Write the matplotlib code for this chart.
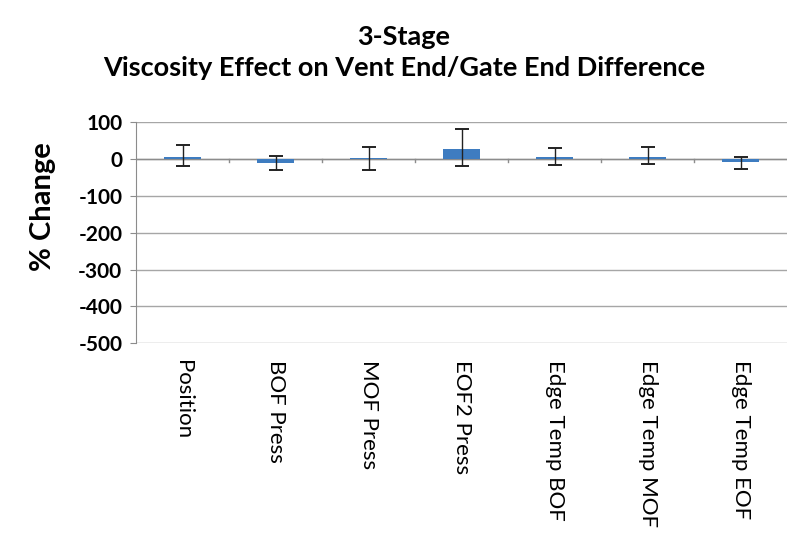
import numpy as np
import matplotlib.pyplot as plt

plt.rcParams['font.family'] = ['Lato', 'DejaVu Sans']

categories = ['Position', 'BOF Press', 'MOF Press', 'EOF2 Press',
              'Edge Temp BOF', 'Edge Temp MOF', 'Edge Temp EOF']
values = [5, -10, 2, 28, 5, 5, -8]
err_high = [37, 8, 33, 81, 29, 33, 6]
err_low = [-18, -31, -29, -20, -15, -13, -28]
yticks = [100, 0, -100, -200, -300, -400, -500]

x = np.arange(len(categories))
vals = np.array(values)
yerr = [vals - np.array(err_low), np.array(err_high) - vals]

fig = plt.figure(figsize=(7.92, 5.58), dpi=100)
ax = fig.add_axes([0.172, 0.385, 0.822, 0.396])

ax.bar(x, values, width=0.4, color='#3E7CC0', zorder=3)
ax.errorbar(x, values, yerr=yerr, fmt='none', ecolor='#222222',
            elinewidth=1.0, capsize=5, capthick=1.4, zorder=4)

# category axis crossing at zero, with ticks between categories
ax.axhline(0, color='#8c8c8c', lw=1, zorder=2)
for b in x[:-1] + 0.5:
    ax.plot([b, b], [0, -8], color='#8c8c8c', lw=1, zorder=2)

ax.set_xlim(-0.5, len(categories) - 0.5)
ax.set_ylim(-500, 100)
ax.set_yticks(yticks)
ax.set_yticklabels([str(t) for t in yticks], fontsize=15, fontweight='bold')
ax.yaxis.grid(True, color='#a6a6a6', lw=1)
ax.set_axisbelow(True)

ax.set_xticks(x)
ax.set_xticklabels(categories, rotation=270, fontsize=16, va='top', ha='center')
ax.tick_params(axis='x', length=0, pad=12)
ax.tick_params(axis='y', length=4, color='#8c8c8c', pad=6)

for s in ['top', 'right', 'bottom']:
    ax.spines[s].set_visible(False)
ax.spines['left'].set_color('#8c8c8c')

ax.set_ylabel('% Change', fontsize=21, fontweight='bold')
ax.yaxis.set_label_coords(-0.123, 0.62)
fig.text(0.51, 0.955, '3-Stage\nViscosity Effect on Vent End/Gate End Difference',
         fontsize=19.5, fontweight='bold', ha='center', va='top',
         linespacing=1.35)

fig.savefig('out.png', dpi=100)
